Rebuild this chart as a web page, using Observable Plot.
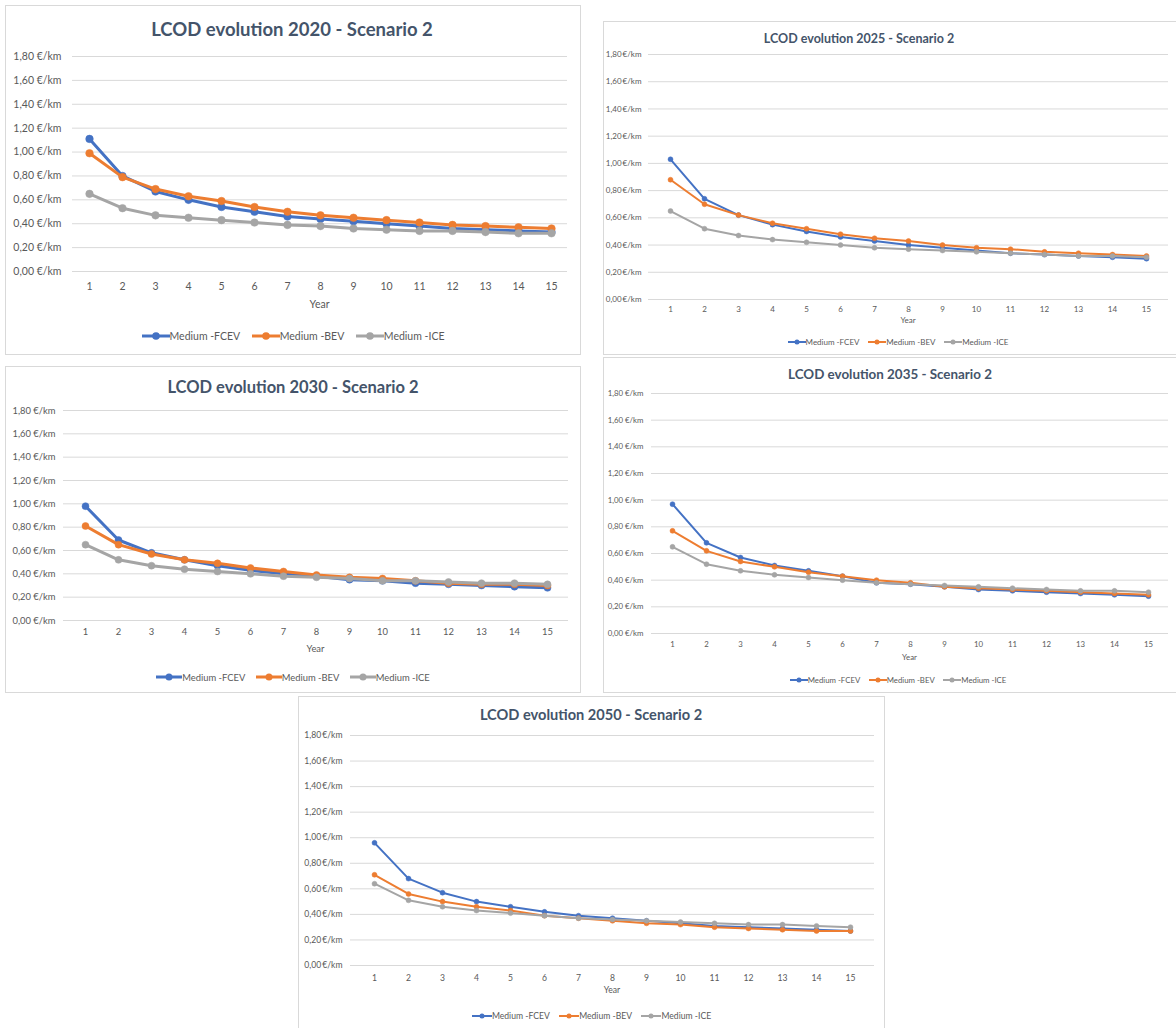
<!DOCTYPE html>
<html>
<head>
<meta charset="utf-8">
<script src="https://cdn.jsdelivr.net/npm/d3@7"></script>
<script src="https://cdn.jsdelivr.net/npm/@observablehq/plot@0.6"></script>
<style>
  html, body { margin: 0; padding: 0; background: #fff; }
  #page { position: relative; width: 1176px; height: 1028px; overflow: hidden; background: #fff; font-family: Lato, "Open Sans", sans-serif; }
  .panel { position: absolute; border: 1px solid #d9d9d9; box-sizing: border-box; background: #fff; }
  .title { position: absolute; white-space: nowrap; font-weight: 700; color: #44546A; transform: translate(-50%, -50%); }
  .axis-title { position: absolute; white-space: nowrap; color: #595959; transform: translate(-50%, -50%); }
  .legend { position: absolute; display: flex; justify-content: center; align-items: center; color: #595959; white-space: nowrap; }
  .legend .item { display: flex; align-items: center; }
  .plot { position: absolute; }
</style>
</head>
<body>
<div id="page"></div>
<script>
// Shared categories
const years = [1, 2, 3, 4, 5, 6, 7, 8, 9, 10, 11, 12, 13, 14, 15];
const seriesNames = ["Medium -FCEV", "Medium -BEV", "Medium -ICE"];
const seriesColors = ["#4472C4", "#ED7D31", "#A5A5A5"];
const yTicks = [0, 0.2, 0.4, 0.6, 0.8, 1.0, 1.2, 1.4, 1.6, 1.8];

// Levelised cost of driving (€/km) per year of operation
const fcev2020 = [1.11, 0.80, 0.67, 0.60, 0.54, 0.50, 0.46, 0.44, 0.42, 0.40, 0.38, 0.36, 0.35, 0.34, 0.33];
const bev2020  = [0.99, 0.79, 0.69, 0.63, 0.59, 0.54, 0.50, 0.47, 0.45, 0.43, 0.41, 0.39, 0.38, 0.37, 0.36];
const ice2020  = [0.65, 0.53, 0.47, 0.45, 0.43, 0.41, 0.39, 0.38, 0.36, 0.35, 0.34, 0.34, 0.33, 0.32, 0.32];

const fcev2025 = [1.03, 0.74, 0.62, 0.55, 0.50, 0.46, 0.43, 0.40, 0.38, 0.36, 0.34, 0.33, 0.32, 0.31, 0.30];
const bev2025  = [0.88, 0.70, 0.62, 0.56, 0.52, 0.48, 0.45, 0.43, 0.40, 0.38, 0.37, 0.35, 0.34, 0.33, 0.32];
const ice2025  = [0.65, 0.52, 0.47, 0.44, 0.42, 0.40, 0.38, 0.37, 0.36, 0.35, 0.34, 0.33, 0.32, 0.32, 0.31];

const fcev2030 = [0.98, 0.69, 0.58, 0.52, 0.47, 0.43, 0.40, 0.38, 0.35, 0.34, 0.32, 0.31, 0.30, 0.29, 0.28];
const bev2030  = [0.81, 0.65, 0.57, 0.52, 0.49, 0.45, 0.42, 0.39, 0.37, 0.36, 0.34, 0.32, 0.31, 0.31, 0.30];
const ice2030  = [0.65, 0.52, 0.47, 0.44, 0.42, 0.40, 0.38, 0.37, 0.36, 0.34, 0.34, 0.33, 0.32, 0.32, 0.31];

const fcev2035 = [0.97, 0.68, 0.57, 0.51, 0.47, 0.43, 0.38, 0.37, 0.35, 0.33, 0.32, 0.31, 0.30, 0.29, 0.28];
const bev2035  = [0.77, 0.62, 0.54, 0.50, 0.46, 0.43, 0.40, 0.38, 0.35, 0.34, 0.33, 0.32, 0.31, 0.30, 0.29];
const ice2035  = [0.65, 0.52, 0.47, 0.44, 0.42, 0.40, 0.38, 0.37, 0.36, 0.35, 0.34, 0.33, 0.32, 0.32, 0.31];

const fcev2050 = [0.96, 0.68, 0.57, 0.50, 0.46, 0.42, 0.39, 0.37, 0.35, 0.33, 0.31, 0.30, 0.29, 0.28, 0.27];
const bev2050  = [0.71, 0.56, 0.50, 0.46, 0.43, 0.39, 0.37, 0.35, 0.33, 0.32, 0.30, 0.29, 0.28, 0.27, 0.27];
const ice2050  = [0.64, 0.51, 0.46, 0.43, 0.41, 0.39, 0.37, 0.36, 0.35, 0.34, 0.33, 0.32, 0.32, 0.31, 0.30];

// Panel geometry (page coordinates) and styling
const panels = [
  { title: "LCOD evolution 2020 - Scenario 2", data: [fcev2020, bev2020, ice2020],
    box: [5, 5, 576, 350], titleX: 292, titleY: 29, titleSize: 18.5,
    grid: { left: 72, right: 567, top: 56, bottom: 271 }, font: 10.5, sep: " ",
    yPad: 11, xPad: 11, yearY: 304, legendY: 336, lw: 3, r: 3.8, swatch: 28 },
  { title: "LCOD evolution 2025 - Scenario 2", data: [fcev2025, bev2025, ice2025],
    box: [603, 21, 590, 334], titleX: 859, titleY: 38, titleSize: 12.5,
    grid: { left: 648, right: 1168, top: 54, bottom: 299 }, font: 8, sep: "\u2009",
    yPad: 7, xPad: 7, yearY: 320, legendY: 342, lw: 2, r: 2.5, swatch: 18 },
  { title: "LCOD evolution 2030 - Scenario 2", data: [fcev2030, bev2030, ice2030],
    box: [5, 366, 576, 327], titleX: 293, titleY: 387, titleSize: 16.5,
    grid: { left: 63, right: 568, top: 410, bottom: 620 }, font: 9.4, sep: " ",
    yPad: 8, xPad: 8, yearY: 648, legendY: 677, lw: 3, r: 3.5, swatch: 26 },
  { title: "LCOD evolution 2035 - Scenario 2", data: [fcev2035, bev2035, ice2035],
    box: [603, 357, 590, 336], titleX: 890, titleY: 374, titleSize: 13.4,
    grid: { left: 651, right: 1168, top: 393, bottom: 633 }, font: 7.8, sep: " ",
    yPad: 8, xPad: 8, yearY: 657, legendY: 680, lw: 2, r: 2.5, swatch: 18 },
  { title: "LCOD evolution 2050 - Scenario 2", data: [fcev2050, bev2050, ice2050],
    box: [298, 696, 587, 345], titleX: 591, titleY: 714, titleSize: 14.6,
    grid: { left: 350, right: 874, top: 735, bottom: 965 }, font: 8.6, sep: "\u2009",
    yPad: 8, xPad: 9, yearY: 990, legendY: 1016, lw: 2, r: 2.5, swatch: 20 }
];

const page = document.getElementById("page");

function el(tag, cls, style, text) {
  const e = document.createElement(tag);
  if (cls) e.className = cls;
  Object.assign(e.style, style);
  if (text != null) e.textContent = text;
  return e;
}

for (const p of panels) {
  const [bx, by, bw, bh] = p.box;
  page.appendChild(el("div", "panel", { left: bx + "px", top: by + "px", width: bw + "px", height: bh + "px" }));

  page.appendChild(el("div", "title", { left: p.titleX + "px", top: p.titleY + "px", fontSize: p.titleSize + "px" }, p.title));

  // tidy rows for this panel
  const rows = [];
  seriesNames.forEach((s, si) => years.forEach((yr, i) => rows.push({ series: s, year: yr, value: p.data[si][i] })));

  const mL = 80, mR = 6, mT = 8, mB = 30;
  const g = p.grid;
  const width = mL + (g.right - g.left) + mR;
  const height = mT + (g.bottom - g.top) + mB;

  const marks = [Plot.ruleY(yTicks, { stroke: "#d9d9d9", strokeWidth: 1 })];
  seriesNames.forEach((s, si) => {
    const sub = rows.filter(d => d.series === s);
    marks.push(Plot.line(sub, { x: "year", y: "value", stroke: seriesColors[si], strokeWidth: p.lw, strokeLinejoin: "round", strokeLinecap: "round" }));
    marks.push(Plot.dot(sub, { x: "year", y: "value", fill: seriesColors[si], stroke: seriesColors[si], strokeWidth: 0.5, r: p.r }));
  });

  const chart = Plot.plot({
    width, height,
    marginLeft: mL, marginRight: mR, marginTop: mT, marginBottom: mB,
    style: { fontFamily: "Lato, sans-serif", fontSize: p.font + "px", color: "#595959", background: "transparent", overflow: "visible" },
    x: { type: "point", domain: years, padding: 0.5, tickSize: 0, tickPadding: p.xPad, label: null },
    y: { domain: [0, 1.8], ticks: yTicks, tickSize: 0, tickPadding: p.yPad, label: null,
         tickFormat: d => d.toFixed(2).replace(".", ",") + p.sep + "€/km" },
    marks
  });
  chart.classList.add("plot");
  chart.style.left = (g.left - mL) + "px";
  chart.style.top = (g.top - mT) + "px";
  page.appendChild(chart);

  page.appendChild(el("div", "axis-title", { left: ((g.left + g.right) / 2) + "px", top: p.yearY + "px", fontSize: p.font + "px" }, "Year"));

  // legend below the plot area
  const legend = el("div", "legend", { left: bx + "px", width: bw + "px", top: (p.legendY - 8) + "px", height: "16px", fontSize: p.font + "px", gap: (p.font * 1.1) + "px" });
  seriesNames.forEach((s, si) => {
    const item = el("div", "item", {});
    const sw = p.swatch, h = 12;
    const svg = d3.create("svg").attr("width", sw).attr("height", h).style("display", "block");
    svg.append("line").attr("x1", 0).attr("x2", sw).attr("y1", h / 2).attr("y2", h / 2)
      .attr("stroke", seriesColors[si]).attr("stroke-width", p.lw);
    svg.append("circle").attr("cx", sw / 2).attr("cy", h / 2).attr("r", p.r).attr("fill", seriesColors[si]);
    item.appendChild(svg.node());
    item.appendChild(el("span", null, {}, s));
    legend.appendChild(item);
  });
  page.appendChild(legend);
}
</script>
</body>
</html>
